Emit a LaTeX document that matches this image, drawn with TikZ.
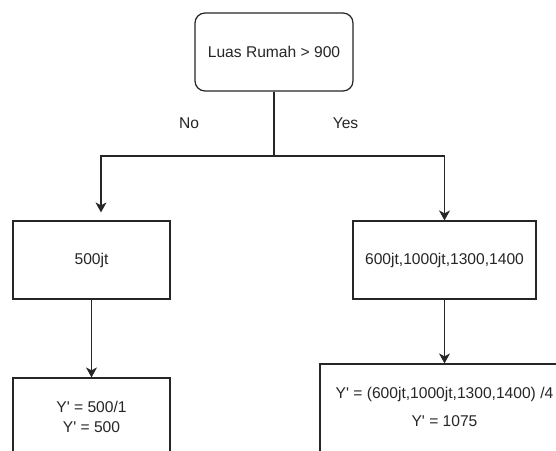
\documentclass[tikz,border=0pt]{standalone}
\usepackage{fontspec}
\setmainfont{Liberation Sans}
\usetikzlibrary{arrows.meta}

\tikzset{
  box/.style={draw=black!85, line width=1.2pt, minimum width=157pt, minimum height=78pt, inner sep=0pt, align=center},
  decision/.style={box, rounded corners=10pt, minimum width=158pt},
  line/.style={draw=black!85, line width=1.2pt},
  flow/.style={line, -{Stealth[length=10pt,width=11pt,inset=3pt]}},
}
\newcommand{\yq}{Y\textquotesingle{}}

\begin{document}
\begin{tikzpicture}[x=1pt, y=-1pt, font=\fontsize{15.6}{20}\selectfont, text=black!85]
\useasboundingbox (0,0) rectangle (556,450);
\clip (0,0) rectangle (556,450);
\fill[white] (0,0) rectangle (556,450);

% boxes
\node[decision] (root) at (274,52) {Luas Rumah > 900};
\node[box] (lefttop) at (91.5,260) {500jt};
\node[box, minimum width=183pt] (righttop) at (444.5,260) {600jt,1000jt,1300,1400};
\node[box] (leftbot) at (91.5,417) {\yq{} = 500/1\\\yq{} = 500};
\node[box, minimum width=249pt, minimum height=136pt, text depth=50pt] (rightbot) at (444.5,432)
  {\yq{} = (600jt,1000jt,1300,1400) /4\\[8pt]\yq{} = 1075};

% labels
\node (nolabel) at (189,123) {No};
\node (yeslabel) at (345.5,123) {Yes};

% connectors
\coordinate (split) at (274,156);
\coordinate (nojoin) at (101,156);
\coordinate (yesjoin) at (444.5,156);
\draw[line] (root.south) -- (split);
\draw[flow, shorten >=8pt] (split) -- (nojoin) -- (nojoin |- lefttop.north);
\draw[flow] (split) -- (yesjoin) -- (righttop.north);
\draw[flow] (lefttop.south) -- (leftbot.north);
\draw[flow] (righttop.south) -- (rightbot.north);

\end{tikzpicture}
\end{document}
